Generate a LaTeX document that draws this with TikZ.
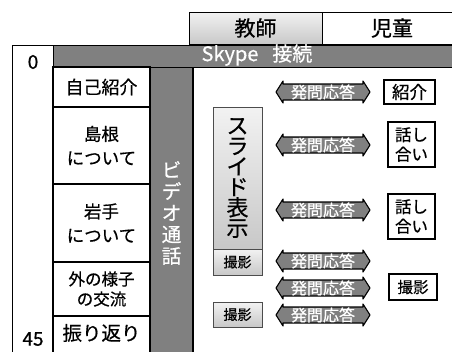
\documentclass[tikz,border=0pt]{standalone}
\usepackage{fontspec}
\setmainfont{Noto Sans CJK JP}[FakeBold=0.6]
\definecolor{barg}{HTML}{808080}
\definecolor{lg1}{HTML}{F2F2F2}
\definecolor{lg2}{HTML}{C8C8C8}
\newcommand{\qaarrow}[2]{%
  \draw[line width=1.1pt,fill=barg,line join=round]
    (276,#2) -- (283,#2-11) -- (283,#2-8) -- (363,#2-8) -- (363,#2-11) -- (370,#2)
    -- (363,#2+11) -- (363,#2+8) -- (283,#2+8) -- (283,#2+11) -- cycle;
  \node[qa] (#1) at (323,#2) {発問応答};}
\begin{document}
\begin{tikzpicture}[x=1pt,y=-1pt,
  box/.style={draw=black,line width=1.4pt,fill=white,inner sep=0pt,align=center},
  bar/.style={draw=black,line width=1.2pt,fill=barg,inner sep=0pt,text=white,align=center},
  gbox/.style={draw=black!70,line width=0.6pt,top color=lg1,bottom color=lg2,inner sep=0pt,align=center},
  qa/.style={text=white,inner sep=0pt,font=\fontsize{16}{16}\selectfont},
  rbox/.style={draw=black,line width=1.2pt,fill=white,inner sep=0pt,align=center}]
\clip (0,0) rectangle (452,351);
\fill[white] (0,0) rectangle (452,351);
% header
\node[gbox,draw=black,line width=1pt,minimum width=133pt,minimum height=32pt,font=\fontsize{21}{22}\selectfont] (kyoshi) at (255.5,28) {教師};
\node[box,line width=1pt,minimum width=140pt,minimum height=32pt,font=\fontsize{21}{22}\selectfont] (jido) at (392,28) {児童};
% time column
\node[box,minimum width=41pt,minimum height=315pt,anchor=north west] (timecol) at (12,45) {};
\node[font=\fontsize{19}{20}\selectfont] (t0) at (33,62) {0};
\node[font=\fontsize{19}{20}\selectfont] (t45) at (33,339) {45};
% skype bar
\node[bar,minimum width=410pt,minimum height=22pt,anchor=north west] (skype) at (53,45) {};
\node[text=white,font=\fontsize{20}{20}\selectfont] (skypetxt) at (257,55) {Skype\hspace{0.7em}接続};
% left list
\node[box,minimum width=97pt,minimum height=40pt,font=\fontsize{18}{20}\selectfont] (jiko) at (101.5,87) {自己紹介};
\node[box,minimum width=97pt,minimum height=77pt,font=\fontsize{17.5}{24}\selectfont] (shimane) at (101.5,145.5) {島根\\について};
\node[box,minimum width=97pt,minimum height=78pt,font=\fontsize{17.5}{24}\selectfont] (iwate) at (101.5,223) {岩手\\について};
\node[box,minimum width=97pt,minimum height=54pt,font=\fontsize{16.5}{20}\selectfont] (soto) at (101.5,289) {外の様子\\の交流};
\node[box,minimum width=97pt,minimum height=44pt,anchor=north] (furi) at (101.5,316) {};
\node[font=\fontsize{19.5}{20}\selectfont] (furitxt) at (101.5,333) {振り返り};
% video bar
\node[bar,minimum width=43pt,minimum height=300pt,anchor=north] (video) at (171.5,67) {};
\node[text=white,align=center,inner sep=0pt,font=\fontsize{19.5}{21.5}\selectfont] (videotxt) at (171.5,213) {ビ\\デ\\オ\\通\\話};
% slide
\node[gbox,minimum width=49pt,minimum height=142pt,font=\fontsize{22}{20.5}\selectfont] (slide) at (237.5,178) {ス\\ラ\\イ\\ド\\表\\示};
\node[gbox,minimum width=49pt,minimum height=26pt,font=\fontsize{14}{15}\selectfont] (satsu1) at (237.5,262) {撮影};
\node[gbox,minimum width=49pt,minimum height=25pt,font=\fontsize{14}{15}\selectfont] (satsu2) at (237.5,314.5) {撮影};
% arrows
\qaarrow{a1}{92}
\qaarrow{a2}{145}
\qaarrow{a3}{210}
\qaarrow{a4}{261}
\qaarrow{a5}{288}
\qaarrow{a6}{315}
% right boxes
\node[rbox,minimum width=51pt,minimum height=24pt,font=\fontsize{17.5}{18}\selectfont] (shokai) at (409.5,92) {紹介};
\node[rbox,minimum width=47pt,minimum height=45pt,font=\fontsize{16.5}{19.5}\selectfont] (hanashi1) at (411.5,144.5) {話し\\合い};
\node[rbox,minimum width=47pt,minimum height=45pt,font=\fontsize{16.5}{19.5}\selectfont] (hanashi2) at (411.5,216.5) {話し\\合い};
\node[rbox,minimum width=48pt,minimum height=26pt,font=\fontsize{15.5}{16}\selectfont] (satsur) at (413,287) {撮影};
\end{tikzpicture}
\end{document}
